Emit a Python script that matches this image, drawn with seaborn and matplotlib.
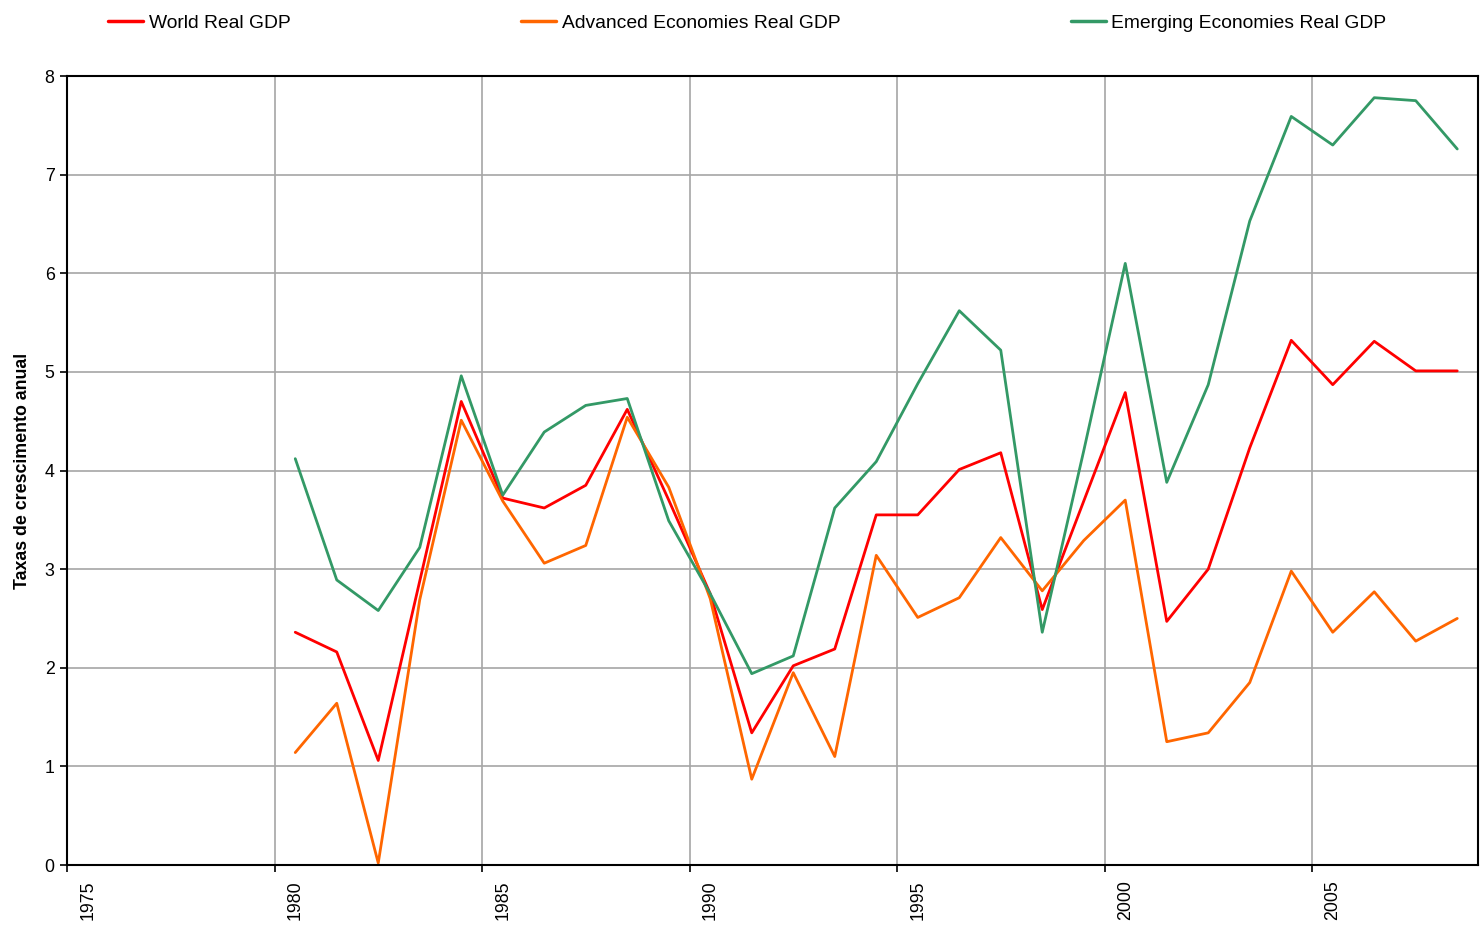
import pandas as pd
import matplotlib
matplotlib.use("Agg")
import matplotlib.pyplot as plt
import seaborn as sns

# annual real GDP growth, 1980-2008
years = list(range(1980, 2009))
world = [2.36, 2.16, 1.06, 2.88, 4.70, 3.72, 3.62, 3.85, 4.62, 3.70,
         2.75, 1.34, 2.02, 2.19, 3.55, 3.55, 4.01, 4.18, 2.59, 3.69,
         4.79, 2.47, 3.00, 4.23, 5.32, 4.87, 5.31, 5.01, 5.01]
advanced = [1.14, 1.64, 0.02, 2.69, 4.51, 3.69, 3.06, 3.24, 4.54, 3.83,
            2.70, 0.87, 1.95, 1.10, 3.14, 2.51, 2.71, 3.32, 2.78, 3.29,
            3.70, 1.25, 1.34, 1.85, 2.98, 2.36, 2.77, 2.27, 2.50]
emerging = [4.12, 2.89, 2.58, 3.22, 4.96, 3.75, 4.39, 4.66, 4.73, 3.49,
            2.75, 1.94, 2.12, 3.62, 4.09, 4.88, 5.62, 5.22, 2.36, 4.20,
            6.10, 3.88, 4.87, 6.53, 7.59, 7.30, 7.78, 7.75, 7.26]

series = ["World Real GDP", "Advanced Economies Real GDP", "Emerging Economies Real GDP"]
colors = ["#FF0000", "#FF6600", "#339966"]
tick_years = list(range(1975, 2009, 5))

df = pd.DataFrame({
    "Year": years * 3,
    "Growth": world + advanced + emerging,
    "Series": [s for s in series for _ in years],
})
# excel-style date axis: point sits in the middle of the year slot
df["x"] = df["Year"] + 0.5

sns.set_style("white")
plt.rcParams["font.family"] = ["Liberation Sans", "DejaVu Sans"]
plt.rcParams.update({"text.color": "black", "axes.labelcolor": "black",
                     "xtick.color": "black", "ytick.color": "black"})

fig = plt.figure(figsize=(14.8, 9.3), dpi=100)
ax = fig.add_axes([67 / 1480, 65 / 930, 1411 / 1480, 789 / 930])

sns.lineplot(data=df, x="x", y="Growth", hue="Series", hue_order=series,
             palette=colors, linewidth=2.0, ax=ax, legend=False)

ax.set_xlim(1975, 2009)
ax.set_ylim(0, 8)
# gridlines / tick marks on the year boundary, labels in the middle of the slot
ax.set_xticks(tick_years)
ax.set_xticklabels([])
ax.set_xticks([y + 0.5 for y in tick_years], minor=True)
ax.set_xticklabels([str(y) for y in tick_years], minor=True, rotation=90, fontsize=12.8)
ax.tick_params(axis="x", which="minor", length=0, pad=11)
ax.set_yticks(range(0, 9))
ax.set_yticklabels([str(v) for v in range(0, 9)], fontsize=12.8)
ax.grid(True, which="major", color="#a6a6a6", linewidth=1.2)
ax.set_axisbelow(True)
for s in ax.spines.values():
    s.set_color("black")
    s.set_linewidth(1.5)
ax.tick_params(axis="both", which="major", direction="out", length=5, width=1.2,
               color="black", left=True, bottom=True, pad=4)
ax.set_xlabel("")
ax.set_ylabel("Taxas de crescimento anual", fontsize=12.8, fontweight="bold", labelpad=10)

handles = [plt.Line2D([], [], color=c, linewidth=2.5) for c in colors]
fig.legend(handles, series, loc="center left", bbox_to_anchor=(108 / 1480, 1 - 23 / 930),
           ncol=3, frameon=False, fontsize=13.9, handlelength=1.8, handletextpad=0.3,
           columnspacing=11.95, borderpad=0, borderaxespad=0)

fig.savefig("out.png", dpi=100)
